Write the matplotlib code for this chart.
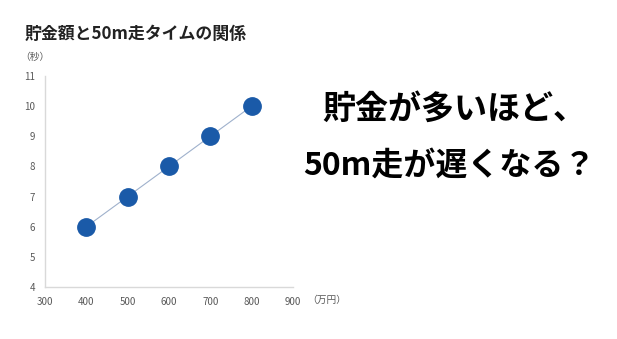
import matplotlib
matplotlib.use("Agg")
import matplotlib.pyplot as plt

plt.rcParams['font.family'] = ['Noto Sans CJK JP', 'DejaVu Sans']

savings = [400, 500, 600, 700, 800]
times = [6, 7, 8, 9, 10]
x_ticks = [300, 400, 500, 600, 700, 800, 900]
y_ticks = [4, 5, 6, 7, 8, 9, 10, 11]
title = "貯金額と50m走タイムの関係"
y_unit = "（秒）"
x_unit = "（万円）"
msg1 = "貯金が多いほど、"
msg2 = "50m走が遅くなる？"

W, H = 617, 339
fig = plt.figure(figsize=(W/100, H/100), dpi=100)
ax = fig.add_axes([45/W, 1-287/H, (293-45)/W, (287-76)/H])
ax.plot(savings, times, color='#9fb1cc', lw=0.8, zorder=1)
ax.plot(savings, times, 'o', color='#1a5aa8', ms=12.5, mec='#1a5aa8', zorder=2, clip_on=False)
ax.set_xlim(300, 900)
ax.set_ylim(4, 11)
ax.set_xticks(x_ticks)
ax.set_yticks(y_ticks)
ax.tick_params(length=0, labelsize=7, colors='#595959', pad=7)
for s in ['top', 'right']:
    ax.spines[s].set_visible(False)
for s in ['left', 'bottom']:
    ax.spines[s].set_color('#d9d9d9')
    ax.spines[s].set_linewidth(1)

fig.text(25/W, 1-34/H, title, fontsize=12.2, fontweight='bold', color='#222222', va='center', ha='left')
fig.text(35/W, 1-57/H, y_unit, fontsize=7, color='#595959', va='center', ha='center')
fig.text(327/W, 1-300/H, x_unit, fontsize=7, color='#595959', va='center', ha='center')
fig.text(322/W, 1-109/H, msg1, fontsize=23.8, fontweight='bold', color='black', va='center', ha='left')
fig.text(303/W, 1-166/H, msg2, fontsize=23, fontweight='bold', color='black', va='center', ha='left')

fig.savefig("out.png", dpi=100, facecolor='white')
